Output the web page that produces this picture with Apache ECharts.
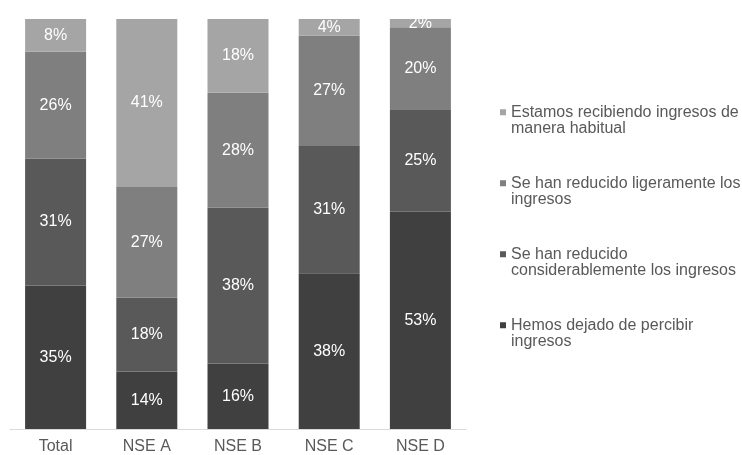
<!DOCTYPE html>
<html>
<head>
<meta charset="utf-8">
<script src="https://cdn.jsdelivr.net/npm/echarts@6/dist/echarts.min.js"></script>
<style>
html,body{margin:0;padding:0;background:#fff;}
#chart{width:742px;height:455px;}
</style>
</head>
<body>
<div id="chart"></div>
<script>
var categories = ['Total', 'NSE A', 'NSE B', 'NSE C', 'NSE D'];
var seriesNames = [
  'Hemos dejado de percibir ingresos',
  'Se han reducido considerablemente los ingresos',
  'Se han reducido ligeramente los ingresos',
  'Estamos recibiendo ingresos de manera habitual'
];
var legendLabels = {
  'Hemos dejado de percibir ingresos': 'Hemos dejado de percibir\ningresos',
  'Se han reducido considerablemente los ingresos': 'Se han reducido\nconsiderablemente los ingresos',
  'Se han reducido ligeramente los ingresos': 'Se han reducido ligeramente los\ningresos',
  'Estamos recibiendo ingresos de manera habitual': 'Estamos recibiendo ingresos de\nmanera habitual'
};
var hemosDejado = [35, 14, 16, 38, 53];
var considerablemente = [31, 18, 38, 31, 25];
var ligeramente = [26, 27, 28, 27, 20];
var habitual = [8, 41, 18, 4, 2];
var colors = ['#404040', '#595959', '#7f7f7f', '#a5a5a5'];

var values = [hemosDejado, considerablemente, ligeramente, habitual];
var FONT = '"Liberation Sans", Arial, sans-serif';

var series = seriesNames.map(function (name, i) {
  return {
    name: name,
    type: 'bar',
    stack: 'total',
    barWidth: 61,
    data: values[i],
    itemStyle: { color: colors[i] },
    label: {
      show: true,
      position: 'inside',
      color: '#ffffff',
      fontSize: 16,
      fontFamily: FONT,
      formatter: '{c}%'
    },
    emphasis: { disabled: true }
  };
});

var chart = echarts.init(document.getElementById('chart'), null, { renderer: 'canvas' });
chart.setOption({
  animation: false,
  backgroundColor: '#ffffff',
  grid: { left: 10, right: 276, top: 19, bottom: 24, containLabel: false },
  xAxis: {
    type: 'category',
    data: categories,
    axisLine: { show: true, lineStyle: { color: '#d9d9d9', width: 1 } },
    axisTick: { show: false },
    axisLabel: { color: '#595959', fontSize: 16, fontFamily: FONT, margin: 10 }
  },
  yAxis: {
    type: 'value',
    min: 0,
    max: 100,
    show: false,
    splitLine: { show: false }
  },
  legend: {
    orient: 'vertical',
    left: 495,
    top: 99,
    itemWidth: 6,
    itemHeight: 22.5,
    itemGap: 38,
    icon: 'path://M0,0h6v6h-6zM0,22.5h0.01',
    data: seriesNames.slice().reverse(),
    formatter: function (n) { return legendLabels[n]; },
    textStyle: { color: '#595959', fontSize: 16, fontFamily: FONT, lineHeight: 16.5 },
    selectedMode: false
  },
  series: series
});
</script>
</body>
</html>
